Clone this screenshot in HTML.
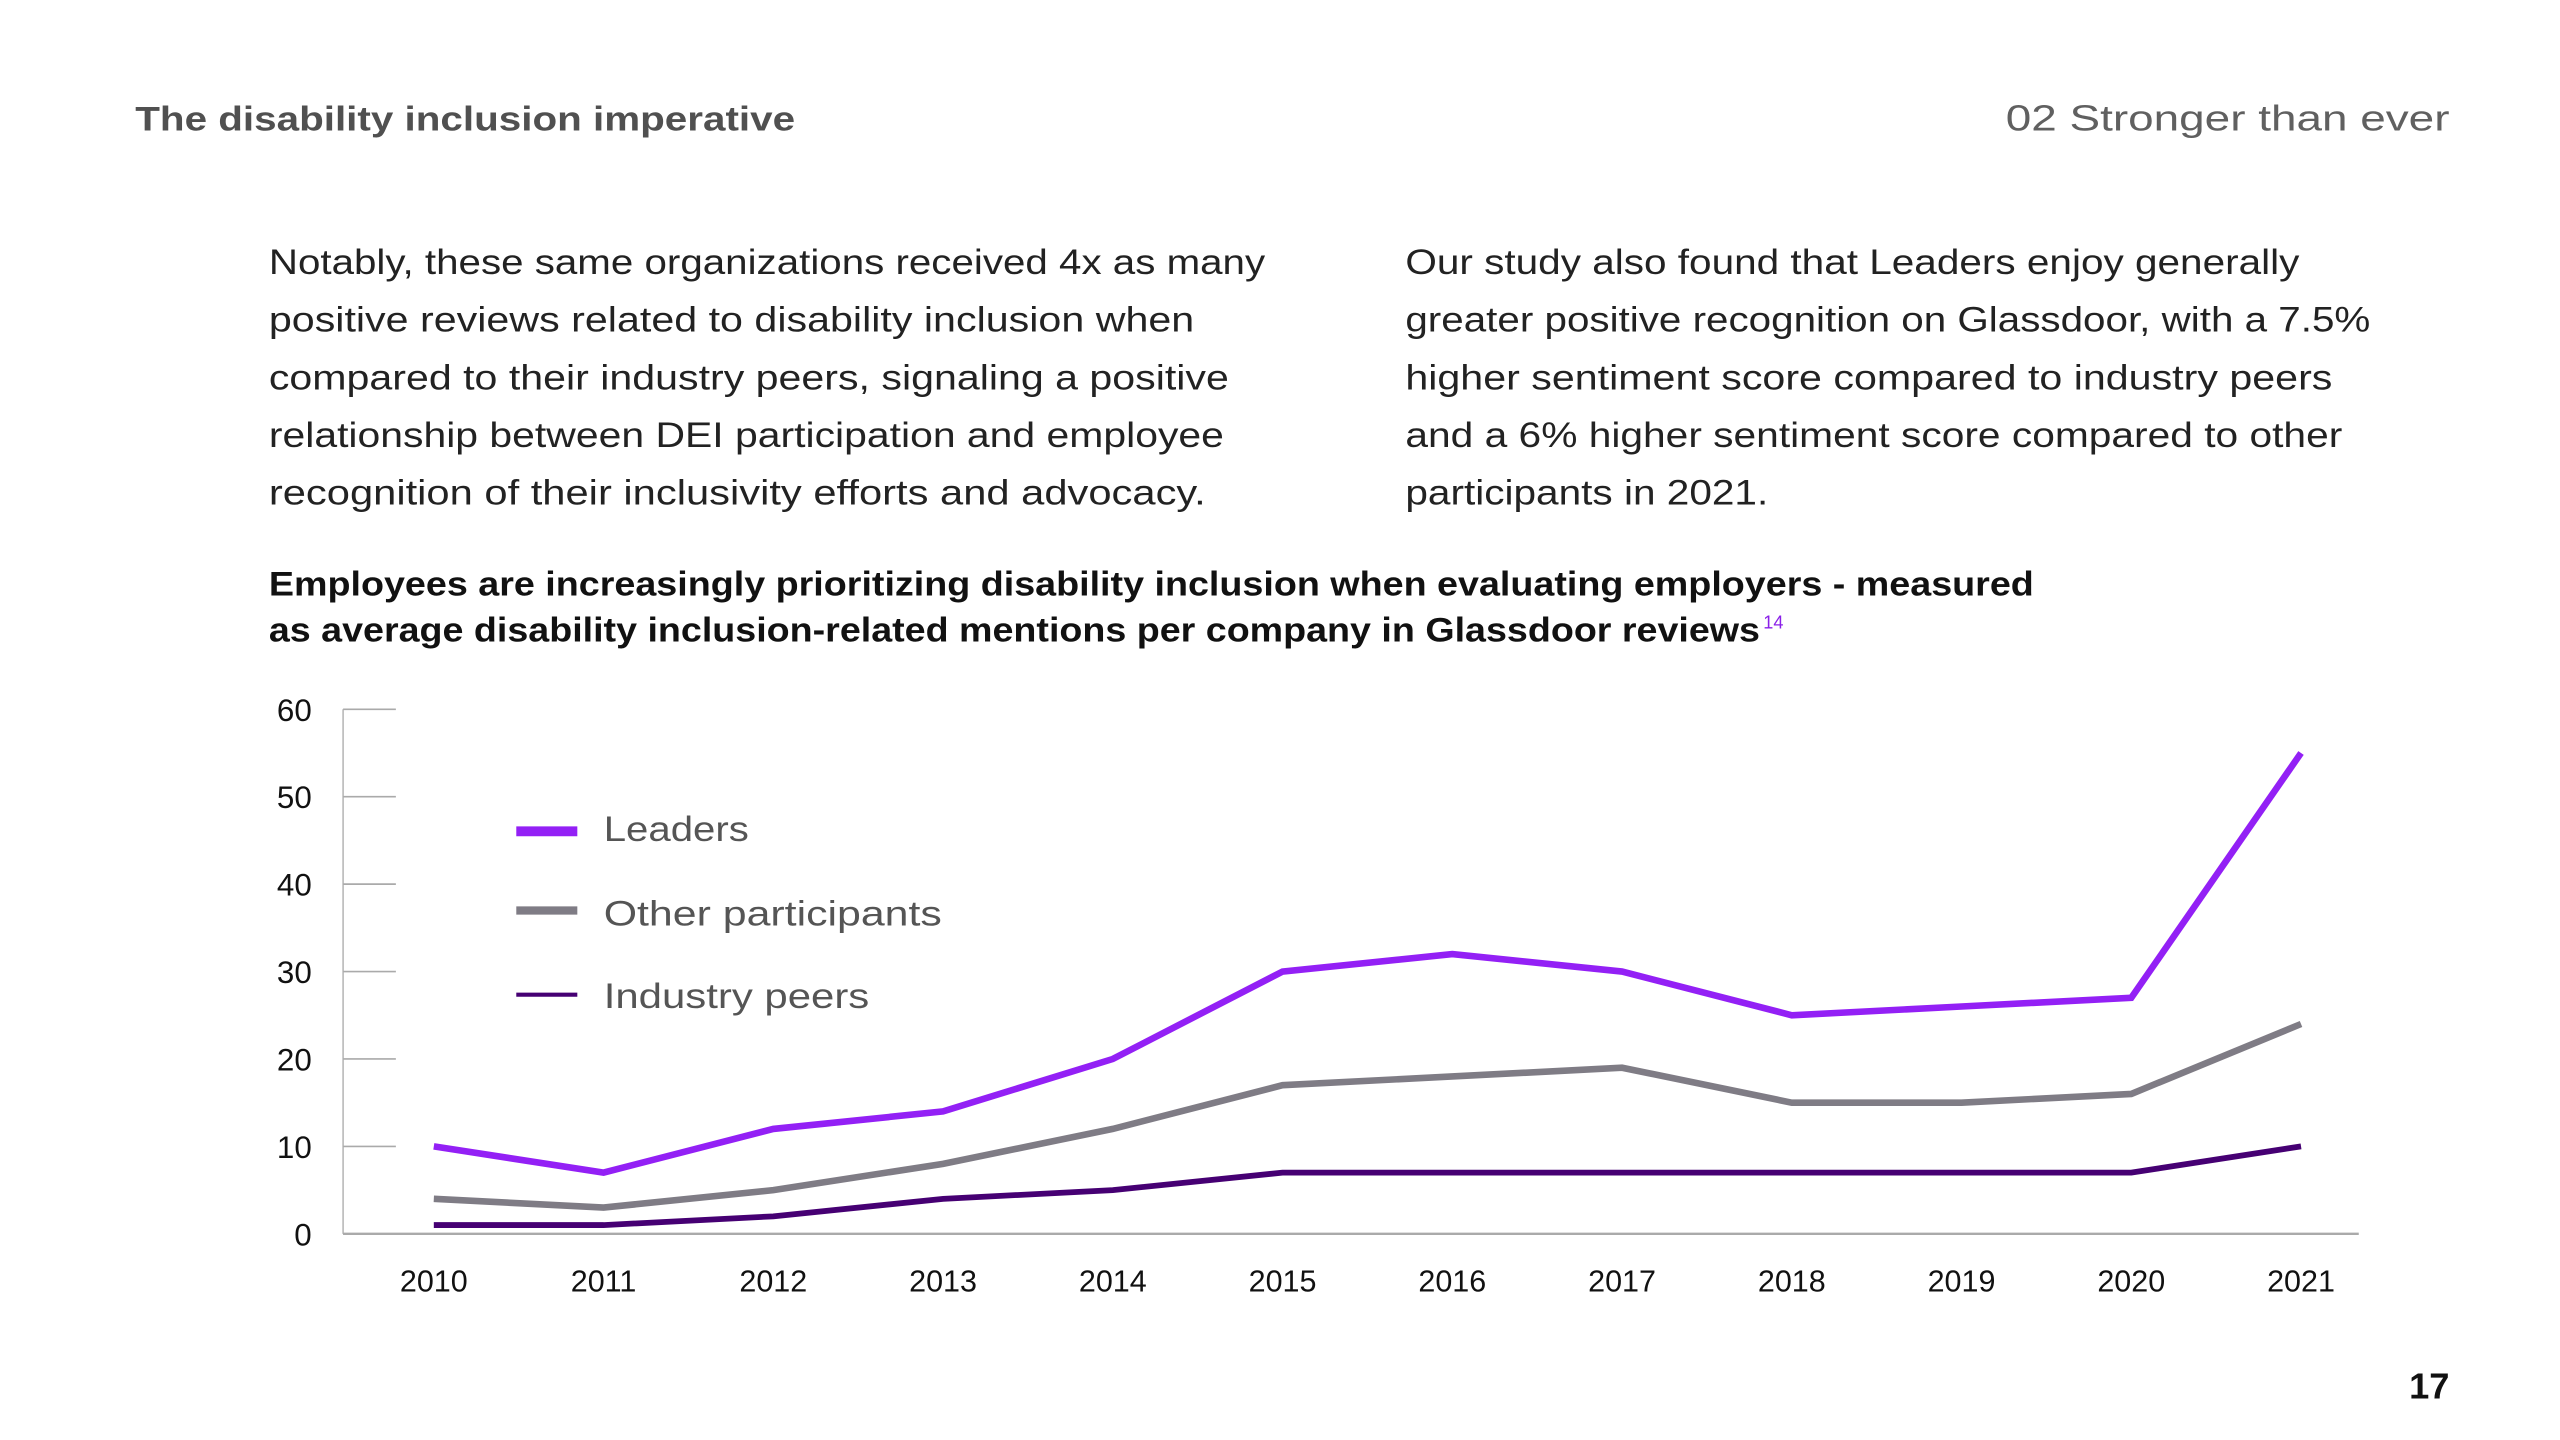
<!DOCTYPE html>
<html><head><meta charset="utf-8"><style>
html,body{margin:0;padding:0;background:#fff;width:2560px;height:1440px;overflow:hidden}
svg{display:block;font-family:"Liberation Sans",sans-serif}
</style></head><body>
<svg id="page" width="2560" height="1440" viewBox="0 0 1552 873" preserveAspectRatio="none" xmlns="http://www.w3.org/2000/svg">
<rect width="1552" height="873" fill="#fff"/>
<text x="82" y="79" font-size="21" font-weight="bold" fill="#505050" textLength="400" lengthAdjust="spacingAndGlyphs">The disability inclusion imperative</text>
<text x="1216" y="79" font-size="22" fill="#606060" textLength="269" lengthAdjust="spacingAndGlyphs">02   Stronger than ever</text>
<g font-size="21.5" fill="#222">
<text x="163" y="166" textLength="604" lengthAdjust="spacingAndGlyphs">Notably, these same organizations received 4x as many</text>
<text x="163" y="201" textLength="561" lengthAdjust="spacingAndGlyphs">positive reviews related to disability inclusion when</text>
<text x="163" y="236" textLength="582" lengthAdjust="spacingAndGlyphs">compared to their industry peers, signaling a positive</text>
<text x="163" y="271" textLength="579" lengthAdjust="spacingAndGlyphs">relationship between DEI participation and employee</text>
<text x="163" y="306" textLength="568" lengthAdjust="spacingAndGlyphs">recognition of their inclusivity efforts and advocacy.</text>
</g>
<g font-size="21.5" fill="#222">
<text x="852" y="166" textLength="542" lengthAdjust="spacingAndGlyphs">Our study also found that Leaders enjoy generally</text>
<text x="852" y="201" textLength="585" lengthAdjust="spacingAndGlyphs">greater positive recognition on Glassdoor, with a 7.5%</text>
<text x="852" y="236" textLength="562" lengthAdjust="spacingAndGlyphs">higher sentiment score compared to industry peers</text>
<text x="852" y="271" textLength="568" lengthAdjust="spacingAndGlyphs">and a 6% higher sentiment score compared to other</text>
<text x="852" y="306" textLength="220" lengthAdjust="spacingAndGlyphs">participants in 2021.</text>
</g>
<g font-size="20.5" font-weight="bold" fill="#111">
<text x="163" y="361" textLength="1070" lengthAdjust="spacingAndGlyphs">Employees are increasingly prioritizing disability inclusion when evaluating employers - measured</text>
<text x="163" y="389" textLength="904" lengthAdjust="spacingAndGlyphs">as average disability inclusion-related mentions per company in Glassdoor reviews</text>
<text x="1069" y="381" font-size="11" font-weight="normal" fill="#8a1fe8">14</text>
</g>
<g id="chart"></g>
<g>
<line x1="313" y1="504" x2="350" y2="504" stroke="#9320f5" stroke-width="6"/>
<text x="366" y="510" font-size="21.5" fill="#555" textLength="88" lengthAdjust="spacingAndGlyphs">Leaders</text>
<line x1="313" y1="552" x2="350" y2="552" stroke="#7f7c85" stroke-width="5"/>
<text x="366" y="561" font-size="21.5" fill="#555" textLength="205" lengthAdjust="spacingAndGlyphs">Other participants</text>
<line x1="313" y1="603" x2="350" y2="603" stroke="#460073" stroke-width="2.5"/>
<text x="366" y="611" font-size="21.5" fill="#555" textLength="161" lengthAdjust="spacingAndGlyphs">Industry peers</text>
</g>
<text x="1485" y="848" text-anchor="end" font-size="22" font-weight="bold" fill="#111">17</text>
</svg>
<script>
const years = ["2010","2011","2012","2013","2014","2015","2016","2017","2018","2019","2020","2021"];
const leaders = [10,7,12,14,20,30,32,30,25,26,27,55];
const otherParticipants = [4,3,5,8,12,17,18,19,15,15,16,24];
const industryPeers = [1,1,2,4,5,7,7,7,7,7,7,10];
const yTicks = [0,10,20,30,40,50,60];

const NS="http://www.w3.org/2000/svg";
const g=document.getElementById('chart');
const X0=263,X1=1395,Y0=748,Y1=430;
function xs(i){return X0+(X1-X0)*i/(years.length-1);}
function ys(v){return Y0-(Y0-Y1)*v/60;}
function mk(t,a){const e=document.createElementNS(NS,t);for(const k in a)e.setAttribute(k,a[k]);g.appendChild(e);return e;}

const ax=mk('line',{x1:208,y1:ys(60),x2:208,y2:Y0,stroke:'#bbb','stroke-width':1});


const bx=mk('line',{x1:208,y1:Y0,x2:1430,y2:Y0,stroke:'#aaa','stroke-width':1.5});


yTicks.forEach(v=>{
  const tk=mk('line',{x1:208,y1:ys(v),x2:240,y2:ys(v),stroke:'#aaa','stroke-width':1});
  
  
  const t=mk('text',{x:189,y:ys(v)+7,'text-anchor':'end','font-size':19,'fill':'#111'});
  t.textContent=v;
  
  
});
years.forEach((y,i)=>{
  const t=mk('text',{x:xs(i),y:783,'text-anchor':'middle','font-size':18.5,'fill':'#111'});
  t.textContent=y;
  
  
});
function series(arr,color,w,name){
  const p=mk('polyline',{points:arr.map((v,i)=>xs(i)+','+ys(v)).join(' '),fill:'none',stroke:color,'stroke-width':w,'stroke-linejoin':'miter'});
  
  
}
series(industryPeers,'#460073',3.5,'industry-peers-line');
series(otherParticipants,'#7f7c85',4,'other-participants-line');
series(leaders,'#9320f5',4,'leaders-line');
</script>
</body></html>
